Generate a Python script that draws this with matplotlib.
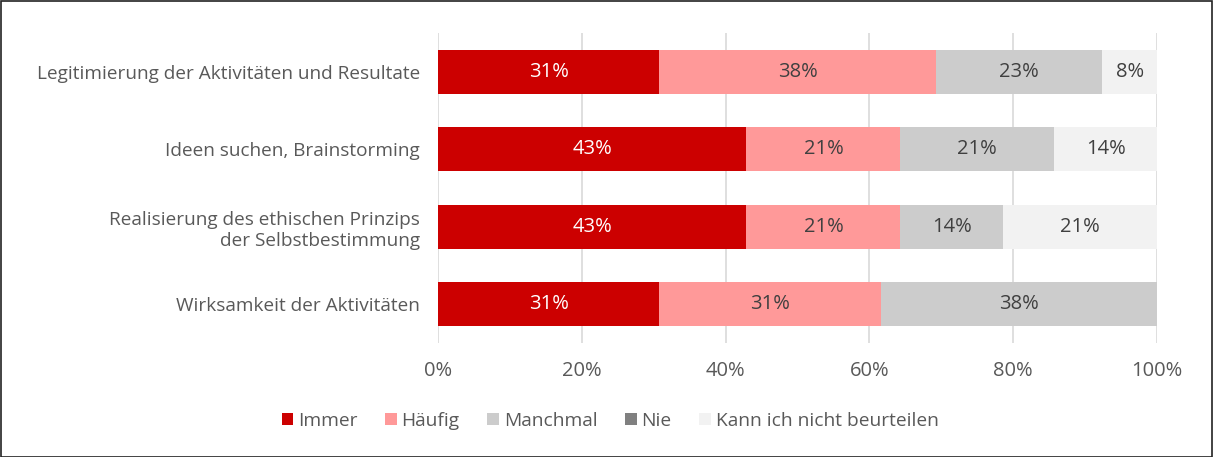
import matplotlib
matplotlib.use("Agg")
import matplotlib.pyplot as plt
import numpy as np

plt.rcParams['font.family'] = ['Open Sans', 'DejaVu Sans']

categories = [
    "Legitimierung der Aktivitäten und Resultate",
    "Ideen suchen, Brainstorming",
    "Realisierung des ethischen Prinzips\nder Selbstbestimmung",
    "Wirksamkeit der Aktivitäten",
]
series_names = ["Immer", "Häufig", "Manchmal", "Nie", "Kann ich nicht beurteilen"]
immer = [30.8, 42.9, 42.9, 30.8]
haeufig = [38.5, 21.4, 21.4, 30.8]
manchmal = [23.1, 21.4, 14.3, 38.5]
nie = [0, 0, 0, 0]
kann_nicht = [7.7, 14.3, 21.4, 0]
colors = ["#CC0000", "#FF9999", "#CCCCCC", "#808080", "#F2F2F2"]
text_colors = ["white", "#404040", "#404040", "white", "#404040"]

series = [immer, haeufig, manchmal, nie, kann_nicht]

fig = plt.figure(figsize=(12.13, 4.57), dpi=100)
ax = fig.add_axes([438 / 1213, 1 - 343 / 457, 719 / 1213, 310 / 457])

y = np.arange(len(categories))
left = np.zeros(len(categories))
for name, vals, col, tcol in zip(series_names, series, colors, text_colors):
    vals = np.array(vals)
    ax.barh(y, vals, left=left, height=0.57, color=col, label=name, zorder=3)
    for i, v in enumerate(vals):
        if v > 0:
            ax.text(left[i] + v / 2, y[i], f"{v:.0f}%", ha="center", va="center",
                    color=tcol, fontsize=14.5, zorder=4)
    left += vals

ax.set_xlim(0, 100)
ax.set_ylim(len(categories) - 0.5, -0.5)
ax.set_yticks(y)
ax.set_yticklabels(categories, fontsize=13.7, color="#595959")
ax.set_xticks(np.arange(0, 101, 20))
ax.set_xticklabels([f"{t}%" for t in range(0, 101, 20)], fontsize=14.5, color="#595959")
ax.tick_params(axis="y", length=0, pad=13)
ax.tick_params(axis="x", length=0, pad=13)
ax.grid(axis="x", color="#D9D9D9", linewidth=1.2, zorder=0)
for s in ax.spines.values():
    s.set_visible(False)

fig.legend(loc="center", bbox_to_anchor=(0.503, 1 - 421 / 457), ncol=5, frameon=False,
           fontsize=13.8, handlelength=0.6, handleheight=0.6, handletextpad=0.25,
           columnspacing=1.45, labelcolor="#595959")

fig.patches.append(plt.Rectangle((0.0008, 0.001), 0.9984, 0.997, transform=fig.transFigure,
                                 fill=False, edgecolor="#222222", linewidth=1.2))

fig.savefig("out.png", dpi=100)
